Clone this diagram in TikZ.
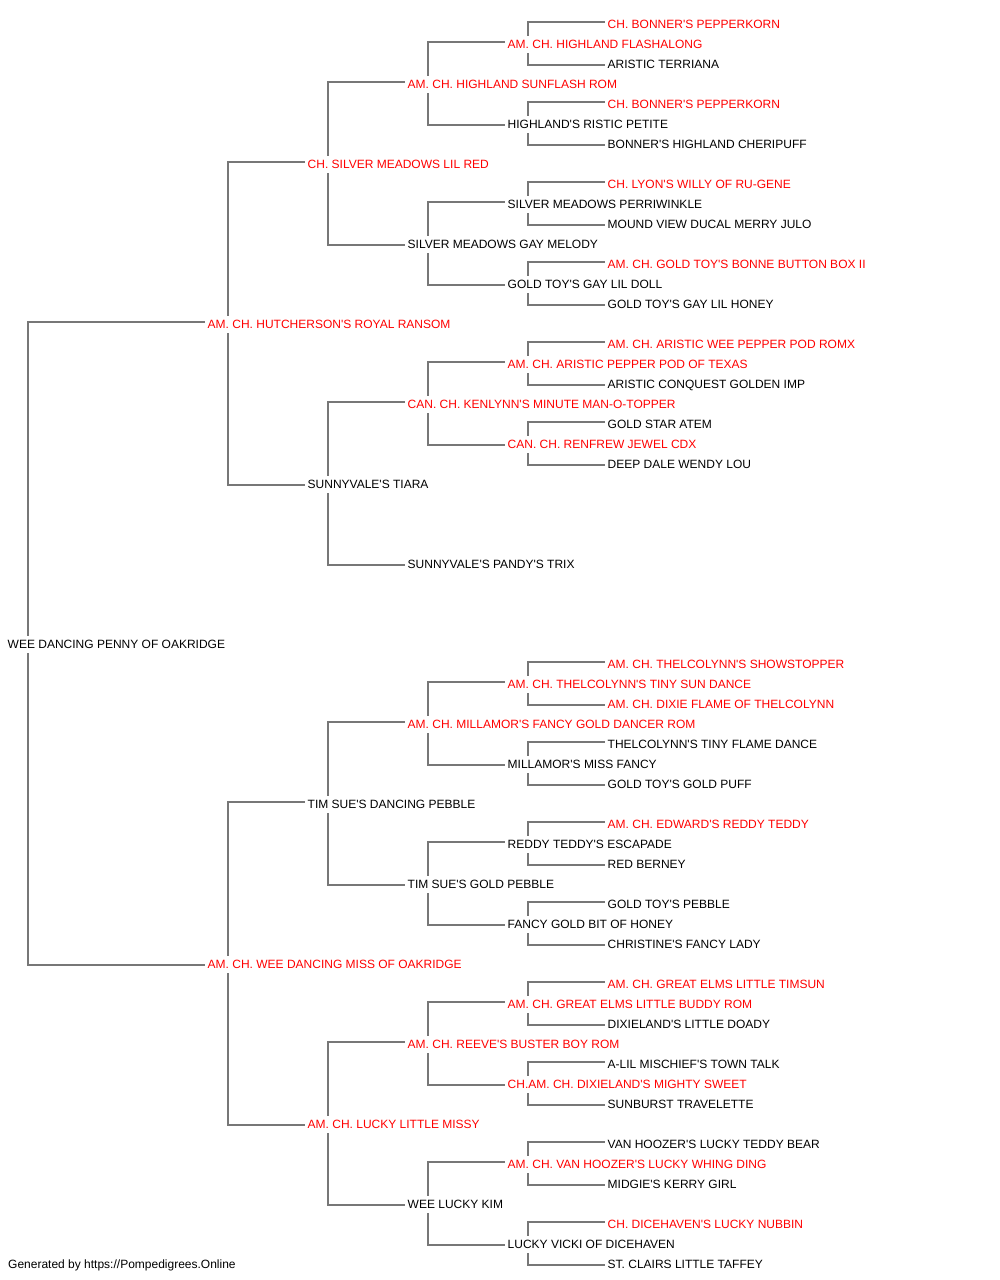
\documentclass[tikz,border=0pt]{standalone}
\usepackage{fontspec}
\setmainfont{Liberation Sans}[Ligatures=TeXOff]
\usetikzlibrary{backgrounds}
\definecolor{redtxt}{HTML}{FF0000}
\definecolor{linegray}{HTML}{777777}
\begin{document}
\begin{tikzpicture}[x=1pt,y=-1pt,
  pn/.style={anchor=base west,fill=white,inner xsep=2.5pt,inner ysep=0pt,
    text height=12.5pt,text depth=4.5pt,font=\fontsize{12}{14}\selectfont},
  rd/.style={pn,text=redtxt},
  bk/.style={pn,text=black},
  conn/.style={draw=linegray,line width=1.5pt}]
\useasboundingbox (0,0) rectangle (1000,1280);
% generation 0
\node[bk] (a) at (5,648) {WEE DANCING PENNY OF OAKRIDGE};
% generation 1
\node[rd] (a1) at (205,328) {AM. CH. HUTCHERSON'S ROYAL RANSOM};
\node[rd] (a2) at (205,968) {AM. CH. WEE DANCING MISS OF OAKRIDGE};
% generation 2
\node[rd] (a11) at (305,168) {CH. SILVER MEADOWS LIL RED};
\node[bk] (a12) at (305,488) {SUNNYVALE'S TIARA};
\node[bk] (a21) at (305,808) {TIM SUE'S DANCING PEBBLE};
\node[rd] (a22) at (305,1128) {AM. CH. LUCKY LITTLE MISSY};
% generation 3
\node[rd] (a111) at (405,88) {AM. CH. HIGHLAND SUNFLASH ROM};
\node[bk] (a112) at (405,248) {SILVER MEADOWS GAY MELODY};
\node[rd] (a121) at (405,408) {CAN. CH. KENLYNN'S MINUTE MAN-O-TOPPER};
\node[bk] (a122) at (405,568) {SUNNYVALE'S PANDY'S TRIX};
\node[rd] (a211) at (405,728) {AM. CH. MILLAMOR'S FANCY GOLD DANCER ROM};
\node[bk] (a212) at (405,888) {TIM SUE'S GOLD PEBBLE};
\node[rd] (a221) at (405,1048) {AM. CH. REEVE'S BUSTER BOY ROM};
\node[bk] (a222) at (405,1208) {WEE LUCKY KIM};
% generation 4
\node[rd] (a1111) at (505,48) {AM. CH. HIGHLAND FLASHALONG};
\node[bk] (a1112) at (505,128) {HIGHLAND'S RISTIC PETITE};
\node[bk] (a1121) at (505,208) {SILVER MEADOWS PERRIWINKLE};
\node[bk] (a1122) at (505,288) {GOLD TOY'S GAY LIL DOLL};
\node[rd] (a1211) at (505,368) {AM. CH. ARISTIC PEPPER POD OF TEXAS};
\node[rd] (a1212) at (505,448) {CAN. CH. RENFREW JEWEL CDX};
\node[rd] (a2111) at (505,688) {AM. CH. THELCOLYNN'S TINY SUN DANCE};
\node[bk] (a2112) at (505,768) {MILLAMOR'S MISS FANCY};
\node[bk] (a2121) at (505,848) {REDDY TEDDY'S ESCAPADE};
\node[bk] (a2122) at (505,928) {FANCY GOLD BIT OF HONEY};
\node[rd] (a2211) at (505,1008) {AM. CH. GREAT ELMS LITTLE BUDDY ROM};
\node[rd] (a2212) at (505,1088) {CH.AM. CH. DIXIELAND'S MIGHTY SWEET};
\node[rd] (a2221) at (505,1168) {AM. CH. VAN HOOZER'S LUCKY WHING DING};
\node[bk] (a2222) at (505,1248) {LUCKY VICKI OF DICEHAVEN};
% generation 5
\node[rd] (a11111) at (605,28) {CH. BONNER'S PEPPERKORN};
\node[bk] (a11112) at (605,68) {ARISTIC TERRIANA};
\node[rd] (a11121) at (605,108) {CH. BONNER'S PEPPERKORN};
\node[bk] (a11122) at (605,148) {BONNER'S HIGHLAND CHERIPUFF};
\node[rd] (a11211) at (605,188) {CH. LYON'S WILLY OF RU-GENE};
\node[bk] (a11212) at (605,228) {MOUND VIEW DUCAL MERRY JULO};
\node[rd] (a11221) at (605,268) {AM. CH. GOLD TOY'S BONNE BUTTON BOX II};
\node[bk] (a11222) at (605,308) {GOLD TOY'S GAY LIL HONEY};
\node[rd] (a12111) at (605,348) {AM. CH. ARISTIC WEE PEPPER POD ROMX};
\node[bk] (a12112) at (605,388) {ARISTIC CONQUEST GOLDEN IMP};
\node[bk] (a12121) at (605,428) {GOLD STAR ATEM};
\node[bk] (a12122) at (605,468) {DEEP DALE WENDY LOU};
\node[rd] (a21111) at (605,668) {AM. CH. THELCOLYNN'S SHOWSTOPPER};
\node[rd] (a21112) at (605,708) {AM. CH. DIXIE FLAME OF THELCOLYNN};
\node[bk] (a21121) at (605,748) {THELCOLYNN'S TINY FLAME DANCE};
\node[bk] (a21122) at (605,788) {GOLD TOY'S GOLD PUFF};
\node[rd] (a21211) at (605,828) {AM. CH. EDWARD'S REDDY TEDDY};
\node[bk] (a21212) at (605,868) {RED BERNEY};
\node[bk] (a21221) at (605,908) {GOLD TOY'S PEBBLE};
\node[bk] (a21222) at (605,948) {CHRISTINE'S FANCY LADY};
\node[rd] (a22111) at (605,988) {AM. CH. GREAT ELMS LITTLE TIMSUN};
\node[bk] (a22112) at (605,1028) {DIXIELAND'S LITTLE DOADY};
\node[bk] (a22121) at (605,1068) {A-LIL MISCHIEF'S TOWN TALK};
\node[bk] (a22122) at (605,1108) {SUNBURST TRAVELETTE};
\node[bk] (a22211) at (605,1148) {VAN HOOZER'S LUCKY TEDDY BEAR};
\node[bk] (a22212) at (605,1188) {MIDGIE'S KERRY GIRL};
\node[rd] (a22221) at (605,1228) {CH. DICEHAVEN'S LUCKY NUBBIN};
\node[bk] (a22222) at (605,1268) {ST. CLAIRS LITTLE TAFFEY};
% footer
\node[anchor=base west,inner sep=0pt,font=\fontsize{12}{14}\selectfont] (footer) at (8,1268.4) {Generated by https://Pompedigrees.Online};
% connectors
\begin{scope}[on background layer]
\foreach \p in {a,a1,a2,a11,a12,a21,a22,a111,a112,a121,a211,a212,a221,a222,
  a1111,a1112,a1121,a1122,a1211,a1212,a2111,a2112,a2121,a2122,a2211,a2212,a2221,a2222}{
  \draw[conn] ([xshift=23pt]\p.west) |- ([yshift=2pt]\p1.west);
  \draw[conn] ([xshift=23pt]\p.west) |- ([yshift=-1pt]\p2.west);
}
\end{scope}
\end{tikzpicture}
\end{document}
